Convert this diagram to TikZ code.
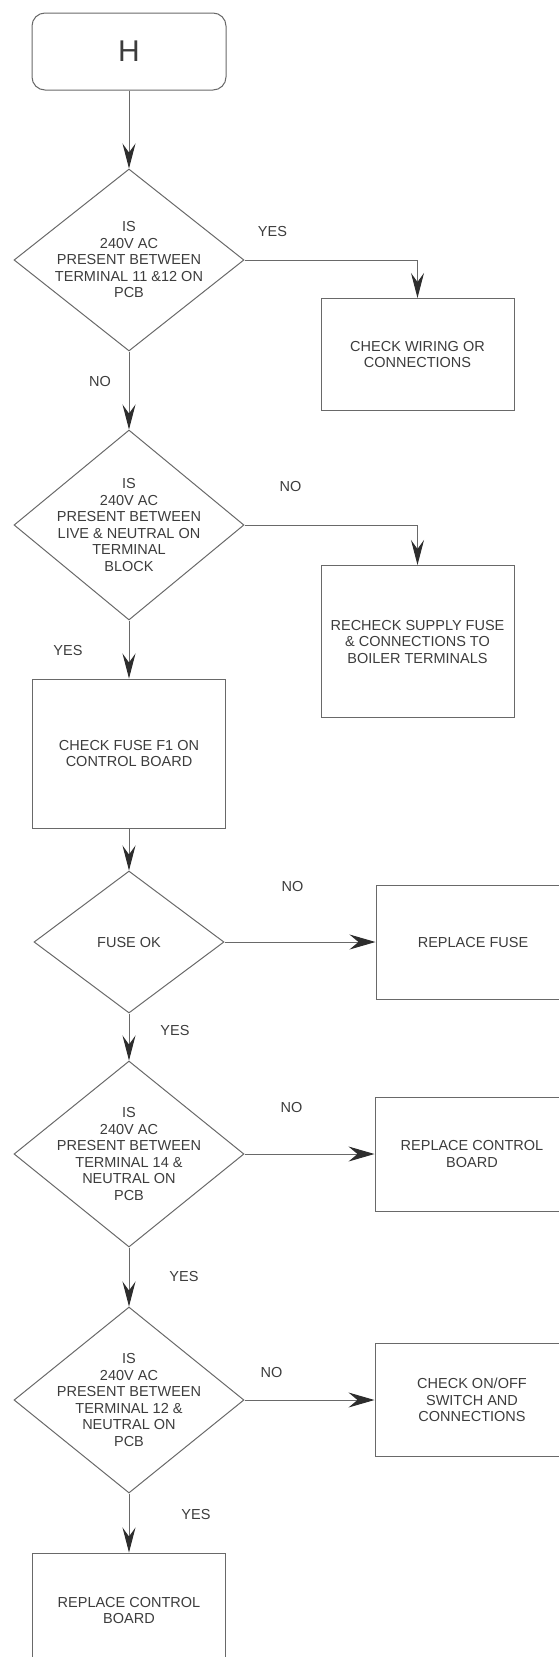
\documentclass[tikz,border=0pt]{standalone}
\usepackage{fontspec}
\setmainfont{Liberation Sans}
\usetikzlibrary{arrows.meta,positioning,shapes.geometric,calc}
\definecolor{flowline}{RGB}{105,105,105}
\definecolor{flowtext}{RGB}{60,60,60}
\definecolor{flowtip}{RGB}{45,45,45}

\begin{document}
\begin{tikzpicture}[x=1pt, y=1pt,
  every node/.style={font=\fontsize{14.5}{16.5}\selectfont, text=flowtext},
  line/.style={draw=flowline, line width=1pt},
  arr/.style={line, -{Stealth[length=25pt,width=13pt,inset=9pt,color=flowtip]}},
  harr/.style={line, -{Stealth[length=26pt,width=15pt,inset=9pt,color=flowtip]}},
  box/.style={draw=flowline, line width=1pt, minimum width=193pt, align=center, inner sep=0pt},
  decide/.style={diamond, draw=flowline, line width=1pt, inner sep=0pt},
  lbl/.style={inner sep=0pt}]
\useasboundingbox (0,0) rectangle (559,-1657);
% start
\node[draw=flowline, line width=1pt, rounded corners=13pt, minimum width=194pt, minimum height=77pt,
  font=\fontsize{30}{30}\selectfont] (h) at (129,-51.5) {H};
% main column
\node[decide, minimum width=230pt, minimum height=182pt, below=78pt of h,
  label={[align=center]center:IS\\240V AC\\PRESENT BETWEEN\\TERMINAL 11 \&12 ON\\PCB}] (d1) {};
\node[decide, minimum width=230pt, minimum height=190pt, below=78pt of d1,
  label={[align=center]center:IS\\240V AC\\PRESENT BETWEEN\\LIVE \& NEUTRAL ON\\TERMINAL\\BLOCK}] (d2) {};
\node[box, minimum height=149pt, below=58pt of d2] (fuse) {CHECK FUSE F1 ON\\CONTROL BOARD};
\node[decide, minimum width=190pt, minimum height=142pt, below=42pt of fuse,
  label={center:FUSE OK}] (d3) {};
\node[decide, minimum width=230pt, minimum height=186pt, below=47pt of d3,
  label={[align=center]center:IS\\240V AC\\PRESENT BETWEEN\\TERMINAL 14 \&\\NEUTRAL ON\\PCB}] (d4) {};
\node[decide, minimum width=230pt, minimum height=186pt, below=59pt of d4,
  label={[align=center]center:IS\\240V AC\\PRESENT BETWEEN\\TERMINAL 12 \&\\NEUTRAL ON\\PCB}] (d5) {};
\node[box, minimum height=115pt, below=59pt of d5] (board2) {REPLACE CONTROL\\BOARD};
% side boxes
\node[box, minimum height=112pt, below right=38pt and 76pt of d1.east] (wiring) {CHECK WIRING OR\\CONNECTIONS};
\node[box, minimum height=152pt, below right=40pt and 76pt of d2.east] (supply) {RECHECK SUPPLY FUSE\\\& CONNECTIONS TO\\BOILER TERMINALS};
\node[box, minimum width=194pt, minimum height=114pt, right=151pt of d3] (newfuse) {REPLACE FUSE};
\node[box, minimum width=194pt, minimum height=114pt, right=130pt of d4] (board1) {REPLACE CONTROL\\BOARD};
\node[box, minimum width=194pt, minimum height=113pt, right=130pt of d5] (switch) {CHECK ON/OFF\\SWITCH AND\\CONNECTIONS};
% connectors
\draw[arr] (h) -- (d1);
\draw[arr] (d1) -- (d2);
\draw[arr] (d2) -- (fuse);
\draw[arr] (fuse) -- (d3);
\draw[arr] (d3) -- (d4);
\draw[arr] (d4) -- (d5);
\draw[arr] (d5) -- (board2);
\draw[arr] (d1.east) -| (wiring.north);
\draw[arr] (d2.east) -| (supply.north);
\draw[harr] (d3) -- (newfuse);
\draw[harr] (d4) -- (board1);
\draw[harr] (d5) -- (switch);
% yes / no
\node[lbl] (yes1) at ($(d1.east)+(28,28)$) {YES};
\node[lbl] (no1) at ($(d1.south)+(-29,-30)$) {NO};
\node[lbl] (no2) at ($(d2.east)+(46,38)$) {NO};
\node[lbl] (yes2) at ($(d2.south)+(-61,-30)$) {YES};
\node[lbl] (no3) at ($(d3.east)+(68,56)$) {NO};
\node[lbl] (yes3) at ($(d3.south)+(46,-17)$) {YES};
\node[lbl] (no4) at ($(d4.east)+(47,47)$) {NO};
\node[lbl] (yes4) at ($(d4.south)+(55,-29)$) {YES};
\node[lbl] (no5) at ($(d5.east)+(27,28)$) {NO};
\node[lbl] (yes5) at ($(d5.south)+(67,-21)$) {YES};
\end{tikzpicture}
\end{document}
